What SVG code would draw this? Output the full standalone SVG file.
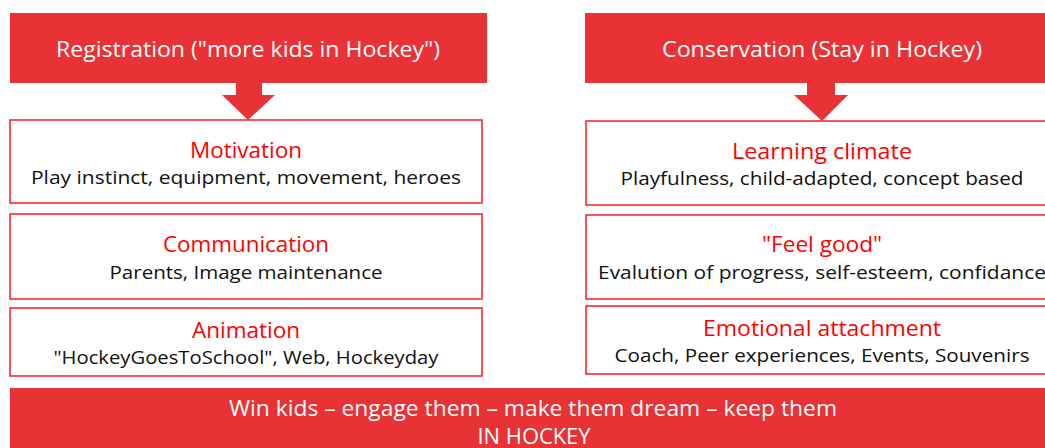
<svg xmlns="http://www.w3.org/2000/svg" width="1045" height="448" viewBox="0 0 1045 448">
<style>
.banner{fill:#E83236}
.box{fill:#fff;stroke:#FF1A1A;stroke-width:1.5}
text{font-family:"Open Sans","DejaVu Sans",sans-serif;text-anchor:middle}
.bt{fill:#fff;font-size:22px}
.ht{fill:#FF0000;font-size:22px}
.st{fill:#111;font-size:19px}
</style>
<rect width="1045" height="448" fill="#fff"/>
<g id="registration">
<rect class="banner" x="10" y="13" width="477" height="70"/>
<text class="bt" x="248" y="57" textLength="384" lengthAdjust="spacingAndGlyphs">Registration ("more kids in Hockey")</text>
</g>
<g id="conservation">
<rect class="banner" x="585" y="13" width="460" height="70"/>
<text class="bt" x="822" y="57" textLength="320" lengthAdjust="spacingAndGlyphs">Conservation (Stay in Hockey)</text>
</g>
<g id="connectors">
<polygon class="banner" points="236,83 262,83 262,95 275,95 248,120 222,95 236,95"/>
<polygon class="banner" points="807,83 835,83 835,95 848,95 822,121 794,95 807,95"/>
</g>
<g id="motivation">
<rect class="box" x="10" y="120" width="472" height="83"/>
<text class="ht" x="246" y="158" textLength="112" lengthAdjust="spacingAndGlyphs">Motivation</text>
<text class="st" x="246" y="184" textLength="430" lengthAdjust="spacingAndGlyphs">Play instinct, equipment, movement, heroes</text>
</g>
<g id="communication">
<rect class="box" x="10" y="214" width="472" height="85"/>
<text class="ht" x="246" y="252" textLength="166" lengthAdjust="spacingAndGlyphs">Communication</text>
<text class="st" x="246" y="279" textLength="273" lengthAdjust="spacingAndGlyphs">Parents, Image maintenance</text>
</g>
<g id="animation">
<rect class="box" x="10" y="308" width="472" height="68"/>
<text class="ht" x="246" y="338" textLength="108" lengthAdjust="spacingAndGlyphs">Animation</text>
<text class="st" x="246" y="364" textLength="385" lengthAdjust="spacingAndGlyphs">"HockeyGoesToSchool", Web, Hockeyday</text>
</g>
<g id="learning">
<rect class="box" x="586" y="121" width="470" height="84"/>
<text class="ht" x="822" y="159" textLength="180" lengthAdjust="spacingAndGlyphs">Learning climate</text>
<text class="st" x="822" y="185" textLength="403" lengthAdjust="spacingAndGlyphs">Playfulness, child-adapted, concept based</text>
</g>
<g id="feelgood">
<rect class="box" x="586" y="215" width="470" height="84"/>
<text class="ht" x="822" y="252" textLength="120" lengthAdjust="spacingAndGlyphs">"Feel good"</text>
<text class="st" x="822" y="279" textLength="448" lengthAdjust="spacingAndGlyphs">Evalution of progress, self-esteem, confidance</text>
</g>
<g id="emotional">
<rect class="box" x="586" y="306" width="470" height="68"/>
<text class="ht" x="822" y="336" textLength="238" lengthAdjust="spacingAndGlyphs">Emotional attachment</text>
<text class="st" x="822" y="362" textLength="415" lengthAdjust="spacingAndGlyphs">Coach, Peer experiences, Events, Souvenirs</text>
</g>
<g id="footer">
<rect class="banner" x="10" y="388" width="1035" height="60"/>
<text class="bt" x="533" y="416" textLength="608" lengthAdjust="spacingAndGlyphs">Win kids – engage them – make them dream – keep them</text>
<text class="bt" x="534" y="444" textLength="113" lengthAdjust="spacingAndGlyphs">IN HOCKEY</text>
</g>
</svg>
